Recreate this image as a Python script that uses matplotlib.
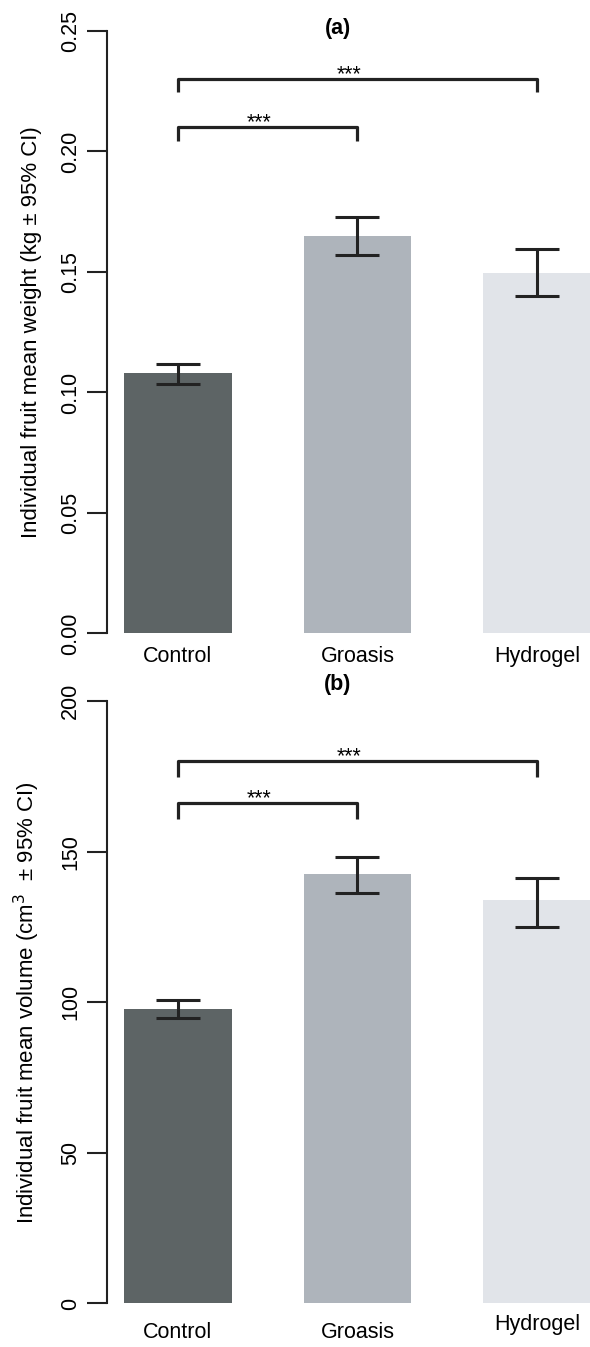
import matplotlib.pyplot as plt
import numpy as np

plt.rcParams['font.family'] = ['Liberation Sans', 'DejaVu Sans']

categories = ['Control', 'Groasis', 'Hydrogel']
colors = ['#5d6465', '#aeb4bb', '#e1e4e9']

weight_mean = [0.108, 0.165, 0.1495]
weight_lo = [0.1034, 0.157, 0.140]
weight_hi = [0.1118, 0.1728, 0.1596]

volume_mean = [97.7, 142.5, 133.8]
volume_lo = [94.7, 136.2, 125.0]
volume_hi = [100.9, 148.1, 141.2]

fig = plt.figure(figsize=(5.9, 13.47), dpi=100)
x = np.arange(len(categories))


def panel(ax, mean, lo, hi, ymax, yticks, ticklabels, ylabel, title,
          title_dy, brackets, label_dy):
    ax.bar(x, mean, width=0.6, color=colors, edgecolor='none')
    mean = np.array(mean)
    yerr = [mean - np.array(lo), np.array(hi) - mean]
    ax.errorbar(x, mean, yerr=yerr, fmt='none', ecolor='#222222',
                elinewidth=2.2, capsize=15.5, capthick=2.2)
    ax.set_xlim(-0.392, 2.292)
    ax.set_ylim(0, ymax)
    for s in ['top', 'right', 'bottom']:
        ax.spines[s].set_visible(False)
    ax.spines['left'].set_linewidth(1.5)
    ax.spines['left'].set_color('#222222')
    ax.set_xticks([])
    ax.set_yticks(yticks)
    ax.set_yticklabels(ticklabels, rotation=90, va='center', fontsize=15.5)
    ax.tick_params(axis='y', length=14.5, width=1.5, pad=4, color='#222222')
    ax.set_ylabel(ylabel, fontsize=16, labelpad=13)
    # panel letter
    ax.annotate(title, (0.89, ymax), xycoords='data', xytext=(0, title_dy),
                textcoords='offset pixels', ha='center', va='center',
                fontsize=15.5, fontweight='bold', annotation_clip=False)
    for (i, j, yb, drop) in brackets:
        ax.plot([x[i], x[i], x[j], x[j]], [yb - drop, yb, yb, yb - drop],
                color='#222222', lw=2.3, solid_capstyle='butt', clip_on=False)
        ax.annotate('***', ((x[i] + x[j]) / 2, yb), xycoords='data',
                    xytext=(-8, -1), textcoords='offset pixels',
                    ha='center', va='baseline', fontsize=15.5,
                    annotation_clip=False)
    for k, c in enumerate(categories):
        ax.annotate(c, (x[k], 0), xycoords='data', xytext=(0, -label_dy[k]),
                    textcoords='offset pixels', ha='center', va='center',
                    fontsize=15.5, annotation_clip=False)


ax1 = fig.add_axes([107 / 590, 0.5297, 1 - 107 / 590, 0.4473])
panel(ax1, weight_mean, weight_lo, weight_hi, 0.25,
      [0, 0.05, 0.10, 0.15, 0.20, 0.25],
      ['0.00', '0.05', '0.10', '0.15', '0.20', '0.25'],
      'Individual fruit mean weight (kg ± 95% CI)', '(a)', 2,
      [(0, 1, 0.210, 0.0055), (0, 2, 0.230, 0.0055)], [23.5, 23.5, 23.5])

ax2 = fig.add_axes([107 / 590, 0.0323, 1 - 107 / 590, 0.4473])
panel(ax2, volume_mean, volume_lo, volume_hi, 200,
      [0, 50, 100, 150, 200], ['0', '50', '100', '150', '200'],
      'Individual fruit mean volume (cm$^3$  ± 95% CI)', '(b)', 16,
      [(0, 1, 166, 5.2), (0, 2, 180, 5.2)], [29.5, 29.5, 21.5])

fig.savefig('out.png', dpi=100)
